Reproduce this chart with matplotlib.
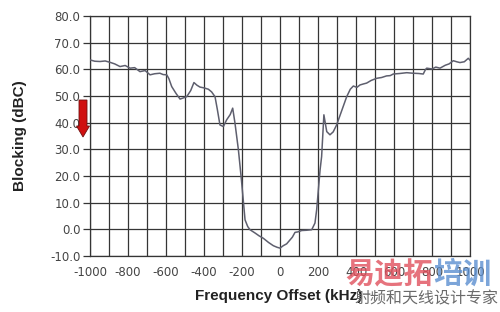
import matplotlib
matplotlib.use('Agg')
import matplotlib.pyplot as plt
from matplotlib.patches import FancyArrow

# offset frequency (kHz) and blocking level (dBC)
freq_khz = [-1000, -975, -947, -920, -895, -870, -842, -815, -789, -765, -737,
            -710, -684, -660, -632, -615, -596, -585, -570, -548, -526, -510,
            -491, -470, -453, -437, -421, -400, -377, -360, -342, -330, -316,
            -298, -281, -262, -249, -237, -219, -203, -184, -170, -158, -130,
            -110, -88, -60, -35, -15, 0, 17, 35, 53, 65, 79, 95, 114, 140,
            167, 184, 193, 211, 219, 231, 246, 263, 280, 298, 325, 351, 370,
            386, 405, 421, 440, 456, 480, 509, 535, 561, 580, 596, 630, 667,
            700, 730, 754, 765, 772, 800, 820, 842, 870, 890, 912, 930, 947,
            970, 991, 1000]
blocking_dbc = [63.5, 63.0, 62.9, 63.1, 62.6, 62.0, 61.0, 61.4, 60.4, 60.6,
                59.1, 59.5, 57.9, 58.3, 58.5, 58.0, 57.9, 56.5, 53.5, 51.0,
                48.8, 49.2, 49.7, 52.0, 55.0, 54.0, 53.3, 53.0, 52.5, 51.5,
                49.7, 45.0, 39.1, 38.5, 41.0, 43.0, 45.4, 39.8, 29.8, 18.5,
                3.5, 1.0, -0.2, -1.5, -2.5, -3.4, -5.0, -6.2, -6.8, -7.1,
                -6.2, -5.5, -4.0, -3.0, -1.2, -1.0, -0.5, -0.4, -0.2, 2.3,
                7.3, 22.3, 27.2, 42.9, 36.6, 35.4, 36.5, 39.1, 44.5, 49.7,
                52.5, 53.7, 53.2, 54.1, 54.5, 54.8, 55.8, 56.6, 56.9, 57.5,
                57.6, 58.2, 58.4, 58.7, 58.5, 58.4, 58.2, 59.8, 60.4, 60.1,
                60.8, 60.4, 61.5, 62.0, 63.2, 62.8, 62.5, 62.8, 64.1, 63.4]

x_ticks = list(range(-1000, 1001, 200))
y_ticks = list(range(-10, 81, 10))

fig = plt.figure(figsize=(5, 3.12), dpi=100)
ax = fig.add_axes([0.18, 0.18, 0.76, 0.769])

ax.plot(freq_khz, blocking_dbc, color='#5e5f6e', linewidth=1.1, zorder=3)

ax.set_xlim(-1000, 1000)
ax.set_ylim(-10, 80)
ax.set_xticks(x_ticks)
ax.set_xticks(range(-1000, 1001, 100), minor=True)
ax.set_yticks(y_ticks)
ax.set_xticklabels([str(t) for t in x_ticks])
ax.set_yticklabels([f'{t:.1f}' for t in y_ticks])

ax.grid(True, which='both', color='#353535', linewidth=0.9)
for s in ax.spines.values():
    s.set_color('#353535')
    s.set_linewidth(0.9)

ax.tick_params(axis='y', length=5, width=0.9, color='#353535', pad=2,
               labelsize=8.5, labelcolor='#444444')
ax.tick_params(axis='x', which='both', length=0, pad=7,
               labelsize=8.5, labelcolor='#444444')
for lab in ax.get_xticklabels() + ax.get_yticklabels():
    lab.set_family('DejaVu Sans')

ax.set_xlabel('Frequency Offset (kHz)', fontsize=11, fontweight='bold',
              family='Liberation Sans', color='#222222')
ax.set_ylabel('Blocking (dBC)', fontsize=11, fontweight='bold',
              family='Liberation Sans', color='#222222')
ax.xaxis.set_label_coords(0.497, -0.14)
ax.yaxis.set_label_coords(-0.165, 0.5)

# red arrow next to the y axis
arrow = FancyArrow(83 / 500, 1 - 100 / 312, 0, -37 / 312, width=8 / 500,
                   head_width=13 / 500, head_length=11 / 312,
                   length_includes_head=True, transform=fig.transFigure,
                   facecolor='#d01010', edgecolor='#701010', linewidth=0.6,
                   zorder=5)
fig.patches.append(arrow)

# watermark
cjk = ['Noto Sans CJK SC', 'DejaVu Sans']
fig.text(345 / 500, 1 - 274 / 312, '易迪拓', fontsize=21, fontweight='bold',
         color='#e0505c', alpha=0.8, family=cjk, va='center', ha='left')
fig.text(433 / 500, 1 - 274 / 312, '培训', fontsize=21, fontweight='bold',
         color='#5b8fd0', alpha=0.8, family=cjk, va='center', ha='left')
fig.text(498 / 500, 1 - 299 / 312, '射频和天线设计专家', fontsize=11.5,
         color='#6a6a6a', family=cjk, va='center', ha='right')

plt.savefig('out.png', dpi=100, facecolor='white')
plt.close()
